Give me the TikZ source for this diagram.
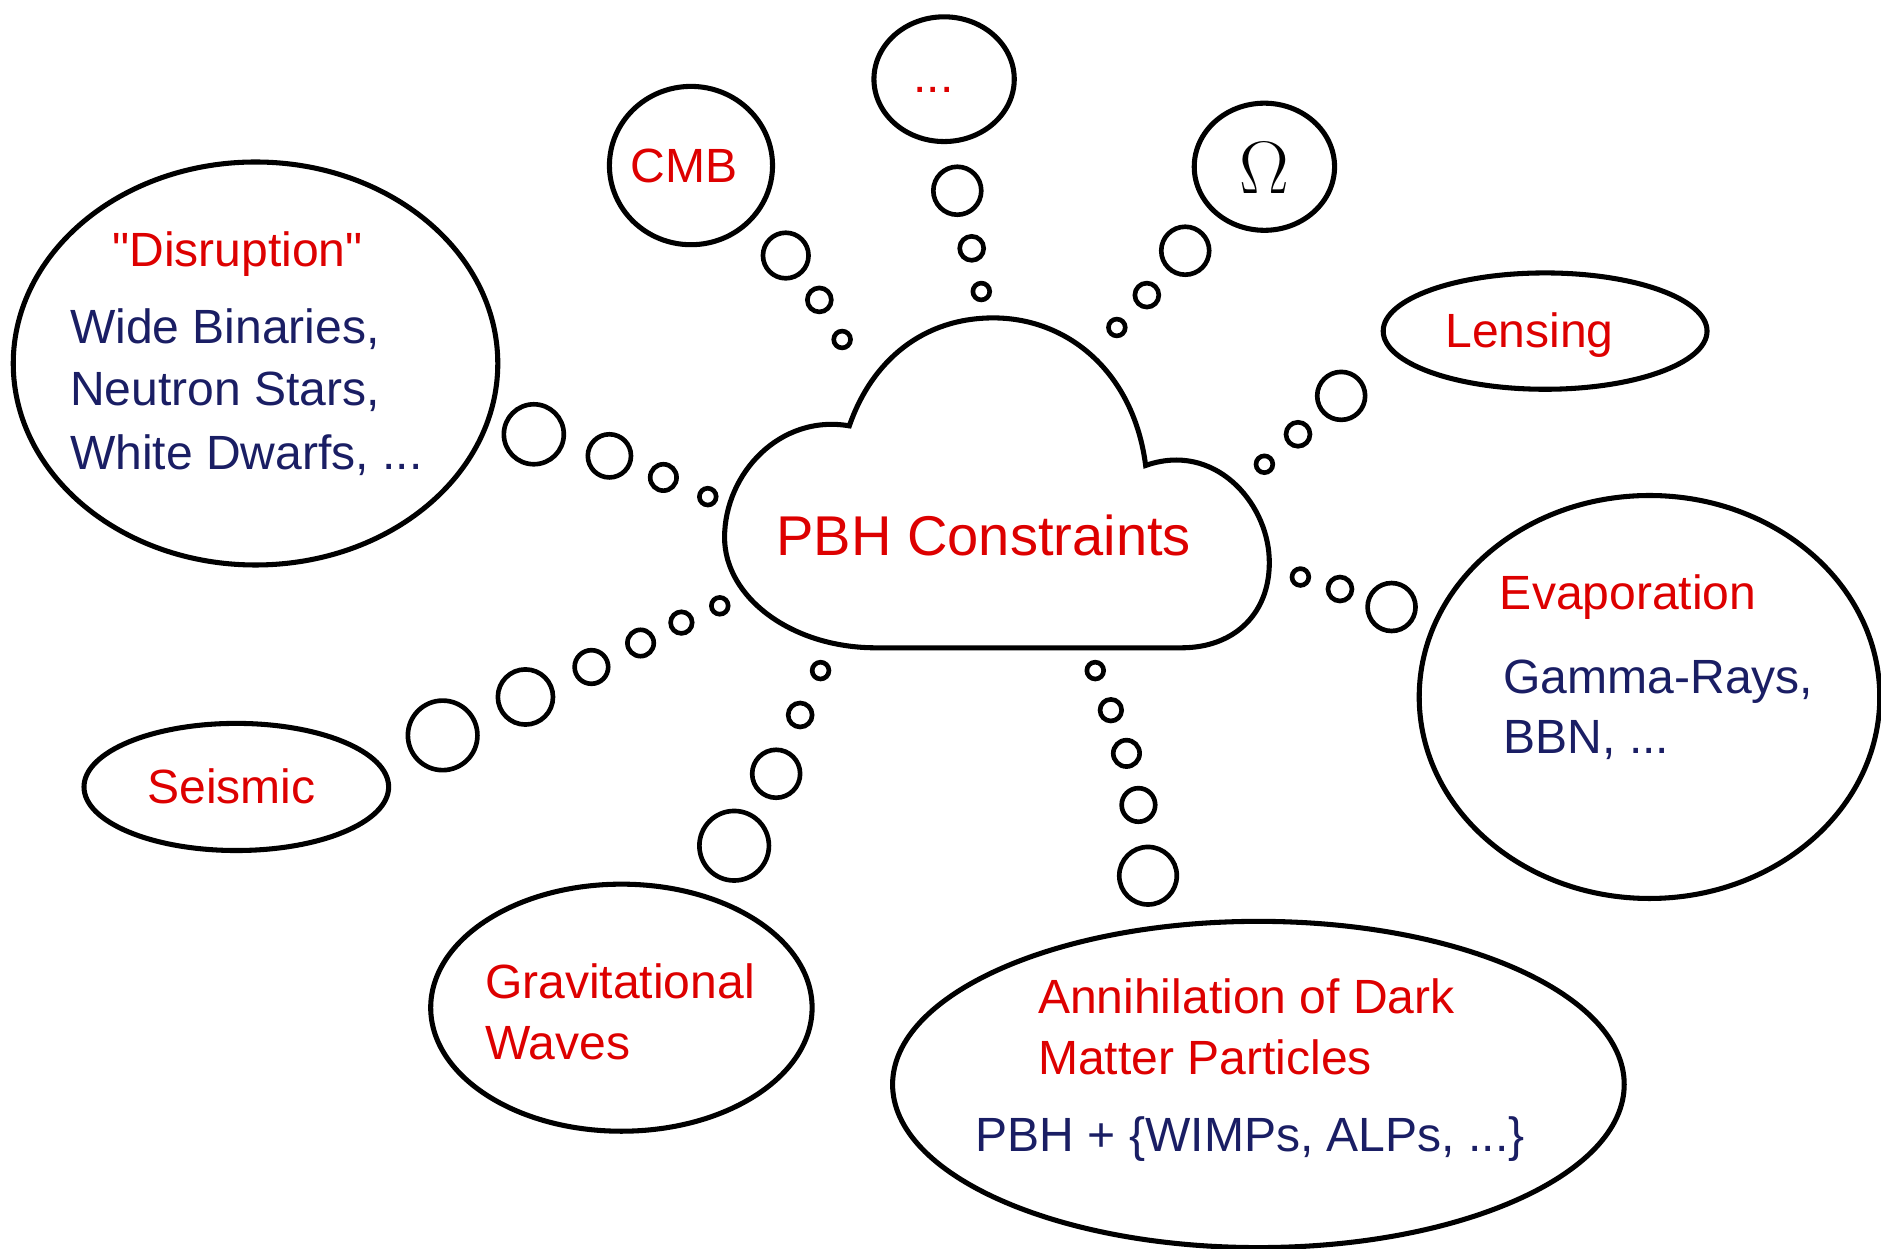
\documentclass[tikz,border=0pt]{standalone}
\usepackage{fontspec}
\setmainfont{Liberation Sans}
% a second family without TeX ligatures, so that " stays a straight quote
\newfontfamily\labelfont{Liberation Sans}
\usetikzlibrary{shapes.geometric}
\definecolor{lblred}{RGB}{221,0,0}
\definecolor{lblblue}{RGB}{26,30,100}

\begin{document}
\begin{tikzpicture}[x=0.02cm,y=-0.02cm,
  outline/.style={draw=black,line width=2.4pt},
  bubble/.style={outline,ellipse,inner sep=0pt},
  puff/.style={draw=black,line width=2.2pt,circle,inner sep=0pt,minimum size={#1*0.04cm}},
  title/.style={text=lblred,font=\labelfont\fontsize{22.8}{29}\selectfont,inner sep=0pt},
  detail/.style={text=lblblue,font=\labelfont\fontsize{22.8}{29}\selectfont,inner sep=0pt}]

\useasboundingbox (0,0) rectangle (1568,1041);

% central cloud
\draw[outline,line join=miter]
  (730,540) -- (985,540)
  .. controls (1030,540) and (1060,510) .. (1058,465)
  .. controls (1056,418) and (1012,368) .. (955,388)
  .. controls (945,310) and (890,265) .. (828,265)
  .. controls (770,265) and (727,300) .. (708,355)
  .. controls (650,345) and (604,395) .. (604,448)
  .. controls (604,498) and (660,540) .. (730,540) -- cycle;
\node[text=lblred,font=\labelfont\fontsize{26.6}{32}\selectfont,inner sep=0pt,anchor=base] (pbh) at (820,463) {PBH Constraints};

% outer thought bubbles
\node[bubble,minimum width=8.08cm,minimum height=6.72cm] (disr) at (213,303) {};
\node[bubble,minimum width=2.72cm,minimum height=2.64cm] (cmb) at (576,138) {};
\node[bubble,minimum width=2.34cm,minimum height=2.08cm] (more) at (787,66) {};
\node[bubble,minimum width=2.34cm,minimum height=2.12cm] (omega) at (1054,139) {};
\node[bubble,minimum width=5.40cm,minimum height=1.94cm] (lens) at (1288,276) {};
\node[bubble,minimum width=7.68cm,minimum height=6.72cm] (evap) at (1375,581) {};
\node[bubble,minimum width=12.2cm,minimum height=5.44cm] (anni) at (1049,904) {};
\node[bubble,minimum width=6.36cm,minimum height=4.12cm] (grav) at (518,840) {};
\node[bubble,minimum width=5.08cm,minimum height=2.12cm] (seis) at (197,656) {};

% labels
\node[title,anchor=base] (disrT) at (198,222) {"Disruption"};
\node[detail,anchor=base west] (disr1) at (58,286) {Wide Binaries,};
\node[detail,anchor=base west] (disr2) at (58,338) {Neutron Stars,};
\node[detail,anchor=base west] (disr3) at (58,391) {White Dwarfs, ...};

\node[title,anchor=base] (cmbT) at (570,152) {CMB};
\node[title,anchor=base] (moreT) at (778,77) {...};
\node[inner sep=0pt,font=\fontsize{24}{28}\selectfont] (omegaT) at (1054,140) {\scalebox{1.42}{$\Omega$}};
\node[title,anchor=base] (lensT) at (1275,290) {Lensing};

\node[title,anchor=base west] (evapT) at (1250,508) {Evaporation};
\node[detail,anchor=base west] (evap1) at (1253,578) {Gamma-Rays,};
\node[detail,anchor=base west] (evap2) at (1253,628) {BBN, ...};

\node[title,anchor=base west] (anniT1) at (865,845) {Annihilation of Dark};
\node[title,anchor=base west] (anniT2) at (865,896) {Matter Particles};
\node[detail,anchor=base west] (anni1) at (813,960) {PBH + \{WIMPs, ALPs, ...\}};

\node[title,anchor=base west] (gravT1) at (404,832) {Gravitational};
\node[title,anchor=base west] (gravT2) at (404,883) {Waves};

\node[title,anchor=base] (seisT) at (193,670) {Seismic};

% trails of small puffs between cloud and bubbles
\node[puff=25] (d1) at (445,362) {};
\node[puff=18] (d2) at (508,380) {};
\node[puff=11] (d3) at (553,398) {};
\node[puff=7]  (d4) at (590,414) {};

\node[puff=19] (c1) at (655,213) {};
\node[puff=10] (c2) at (683,250) {};
\node[puff=7]  (c3) at (702,283) {};

\node[puff=20] (m1) at (798,159) {};
\node[puff=10] (m2) at (810,207) {};
\node[puff=7]  (m3) at (818,243) {};

\node[puff=20] (o1) at (988,209) {};
\node[puff=10] (o2) at (956,246) {};
\node[puff=7]  (o3) at (931,273) {};

\node[puff=20] (l1) at (1118,330) {};
\node[puff=10] (l2) at (1082,362) {};
\node[puff=7]  (l3) at (1054,387) {};

\node[puff=20] (e1) at (1160,506) {};
\node[puff=10] (e2) at (1117,491) {};
\node[puff=7]  (e3) at (1084,481) {};

\node[puff=24] (a1) at (957,730) {};
\node[puff=14] (a2) at (949,671) {};
\node[puff=11] (a3) at (939,628) {};
\node[puff=9]  (a4) at (926,592) {};
\node[puff=7]  (a5) at (913,559) {};

\node[puff=29] (g1) at (612,705) {};
\node[puff=20] (g2) at (647,645) {};
\node[puff=10] (g3) at (667,596) {};
\node[puff=7]  (g4) at (684,559) {};

\node[puff=29] (s1) at (369,613) {};
\node[puff=23] (s2) at (438,581) {};
\node[puff=14] (s3) at (493,556) {};
\node[puff=11] (s4) at (534,536) {};
\node[puff=9]  (s5) at (568,519) {};
\node[puff=7]  (s6) at (600,505) {};
\end{tikzpicture}
\end{document}
